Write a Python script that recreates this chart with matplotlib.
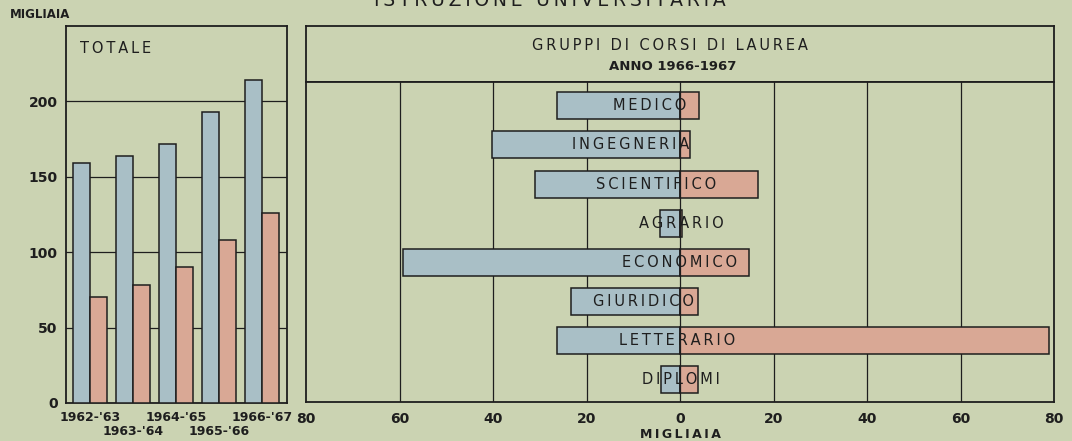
import matplotlib
matplotlib.use("Agg")
import matplotlib.pyplot as plt

# totals by academic year (thousands)
years = ["1962-'63", "1963-'64", "1964-'65", "1965-'66", "1966-'67"]
tot_blue = [159, 164, 172, 193, 214]
tot_red = [70, 78, 90, 108, 126]

# degree groups, year 1966-1967 (thousands)
groups = ["MEDICO", "INGEGNERIA", "SCIENTIFICO", "AGRARIO",
          "ECONOMICO", "GIURIDICO", "LETTERARIO", "DIPLOMI"]
grp_blue = [26.3, 40.2, 31.0, 4.3, 59.3, 23.3, 26.3, 4.1]
grp_red = [4.1, 2.1, 16.7, 0.4, 14.8, 3.9, 79.0, 3.9]

x_ticks = [-80, -60, -40, -20, 0, 20, 40, 60, 80]

BG = "#cbd3b2"
BLUE = "#a9bfc6"
RED = "#d9a895"
INK = "#1e1e1e"


def spaced(s):
    return "\u2009".join(s)


fig = plt.figure(figsize=(10.72, 4.41), dpi=100)
fig.patch.set_facecolor(BG)

# ---- left panel: totals
ax1 = fig.add_axes([66 / 1072, 1 - 403 / 441, 221 / 1072, 377 / 441])
ax1.set_facecolor(BG)
idx = list(range(len(years)))
w = 0.4
ax1.bar([i - w / 2 for i in idx], tot_blue, width=w, color=BLUE,
        edgecolor=INK, linewidth=1.1, zorder=3)
ax1.bar([i + w / 2 for i in idx], tot_red, width=w, color=RED,
        edgecolor=INK, linewidth=1.1, zorder=3)
for v in [50, 100, 150, 200]:
    ax1.axhline(v, color=INK, lw=0.9, zorder=1)
ax1.set_xlim(-0.56, 4.58)
ax1.set_ylim(0, 250)
ax1.set_yticks([0, 50, 100, 150, 200])
ax1.set_yticklabels(["0", "50", "100", "150", "200"], fontsize=10,
                    fontweight="bold", color=INK)
# staggered year labels: even years on major ticks, odd ones on minor ticks lower down
ax1.set_xticks(idx[::2])
ax1.set_xticklabels(years[::2], fontsize=9, fontweight="bold", color=INK)
ax1.set_xticks(idx[1::2], minor=True)
ax1.set_xticklabels(years[1::2], minor=True, fontsize=9, fontweight="bold",
                    color=INK)
ax1.tick_params(which="both", length=0, pad=6)
ax1.tick_params(axis="x", which="minor", pad=16)
for sp in ax1.spines.values():
    sp.set_color(INK)
    sp.set_linewidth(1.3)
ax1.text(0.065, 0.96, spaced("TOTALE"), transform=ax1.transAxes, ha="left",
         va="top", fontsize=10.5, color=INK)
fig.text(40 / 1072, 1 - 15 / 441, "MIGLIAIA", ha="center", va="center",
         fontsize=8.5, fontweight="bold", color=INK)

# ---- right panel header
axh = fig.add_axes([306 / 1072, 1 - 82 / 441, 748 / 1072, 56 / 441])
axh.set_facecolor(BG)
axh.set_xticks([])
axh.set_yticks([])
for sp in axh.spines.values():
    sp.set_color(INK)
    sp.set_linewidth(1.3)
axh.text(0.487, 0.66, spaced("GRUPPI DI CORSI DI LAUREA"), transform=axh.transAxes,
         ha="center", va="center", fontsize=10.5, color=INK)
axh.text(0.49, 0.28, "ANNO 1966-1967", transform=axh.transAxes,
         ha="center", va="center", fontsize=9.5, fontweight="bold", color=INK)

# ---- right panel: groups
ax2 = fig.add_axes([306 / 1072, 1 - 402 / 441, 748 / 1072, 320 / 441])
ax2.set_facecolor(BG)
rows = list(range(len(groups)))
h = 0.69
ax2.barh(rows, [-v for v in grp_blue], height=h, color=BLUE, edgecolor=INK,
         linewidth=1.1, zorder=3)
ax2.barh(rows, grp_red, height=h, color=RED, edgecolor=INK,
         linewidth=1.1, zorder=3)
for v in x_ticks[1:-1]:
    ax2.axvline(v, color=INK, lw=0.9, zorder=1 if v != 0 else 4)
label_x = [-6.4, -10.5, -5.1, 0.2, -0.2, -7.9, -0.6, 0.2]
for r, g, lx in zip(rows, groups, label_x):
    ax2.text(lx, r, spaced(g), ha="center", va="center", fontsize=10.5,
             color=INK, zorder=5)
ax2.set_xlim(-80, 80)
ax2.set_ylim(7.57, -0.61)
ax2.set_yticks([])
ax2.set_xticks(x_ticks)
ax2.set_xticklabels([str(abs(t)) for t in x_ticks], fontsize=10,
                    fontweight="bold", color=INK)
ax2.tick_params(length=0, pad=7)
ax2.set_xlabel(spaced("MIGLIAIA"), fontsize=9, fontweight="bold", color=INK,
               labelpad=2)
for sp in ax2.spines.values():
    sp.set_color(INK)
    sp.set_linewidth(1.3)

# main title, cut by the top edge like the scan
fig.text(550 / 1072, 1 - 6 / 441, spaced("ISTRUZIONE UNIVERSITARIA"),
         ha="center", va="baseline", fontsize=13.5, color=INK)

fig.savefig("out.png", dpi=100, facecolor=BG)
